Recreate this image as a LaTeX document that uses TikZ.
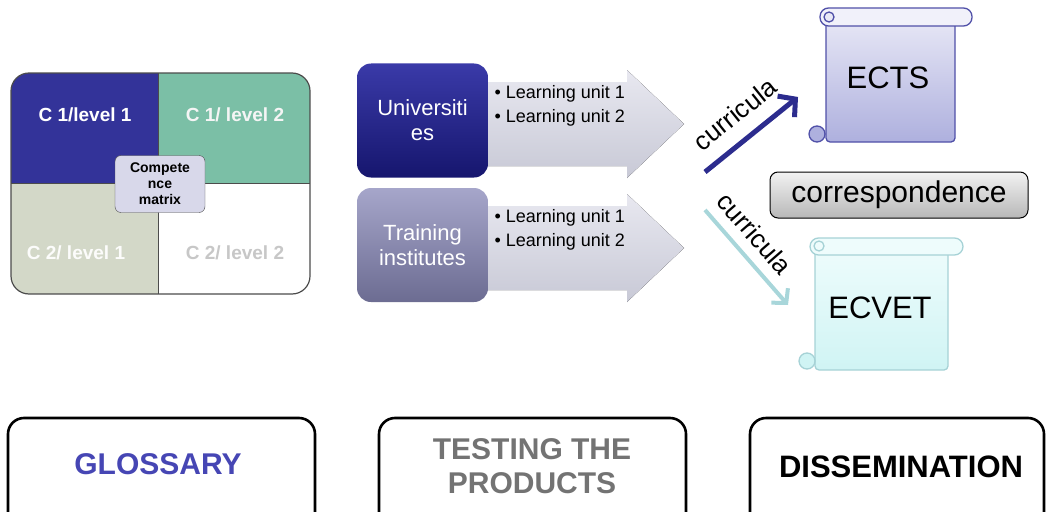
\documentclass[tikz,border=0pt]{standalone}
\usepackage{fontspec}
\setmainfont{Liberation Sans}
\usetikzlibrary{arrows.meta}

\definecolor{matblue}{HTML}{333399}
\definecolor{matgreen}{HTML}{7BBFA6}
\definecolor{matbeige}{HTML}{D3D8C8}
\definecolor{cmfill}{HTML}{D8D8EA}
\definecolor{unitop}{HTML}{3A3AA8}
\definecolor{unibot}{HTML}{16166E}
\definecolor{trntop}{HTML}{A6A6CA}
\definecolor{trnbot}{HTML}{6C6C92}
\definecolor{arrtop}{HTML}{E8E8F0}
\definecolor{arrbot}{HTML}{C8C9D6}
\definecolor{ectsline}{HTML}{5050A8}
\definecolor{ectstop}{HTML}{E8E8F6}
\definecolor{ectsbot}{HTML}{AEB0DE}
\definecolor{ecvetline}{HTML}{A6D2D6}
\definecolor{ecvettop}{HTML}{EEFCFC}
\definecolor{ecvetbot}{HTML}{D0F4F4}
\definecolor{curdark}{HTML}{2C2C8E}
\definecolor{curlight}{HTML}{A8D6DA}
\definecolor{glossblue}{HTML}{4646B4}

\tikzset{
  quadlabel/.style={font=\bfseries\fontsize{19}{21}\selectfont},
  orgbox/.style={rounded corners=14pt, minimum width=131pt, minimum height=114pt,
    align=center, text=white, font=\fontsize{22}{25}\selectfont},
  unitlabel/.style={anchor=base west, font=\fontsize{18}{20}\selectfont},
  curlabel/.style={font=\fontsize{26}{28}\selectfont, text=black, sloped},
  stagebox/.style={draw=black, line width=2.6pt, rounded corners=16pt},
  stagelabel/.style={font=\bfseries\fontsize{30}{34}\selectfont, align=center},
}

\begin{document}
\begin{tikzpicture}[x=1pt, y=-1pt]
  \useasboundingbox (0,0) rectangle (1046,511);
  \clip (0,0) rectangle (1046,511);

  % competence matrix
  \begin{scope}
    \clip[rounded corners=18pt] (11,73) rectangle (310,294);
    \fill[matblue] (11,73) rectangle (158,183);
    \fill[matgreen] (158,73) rectangle (310,183);
    \fill[matbeige] (11,183) rectangle (158,294);
    \fill[white] (158,183) rectangle (310,294);
  \end{scope}
  \draw[black!70, line width=1.2pt, rounded corners=18pt] (11,73) rectangle (310,294);
  \draw[black!70] (158,73) -- (158,294);
  \draw[black!70] (11,183) -- (310,183);
  \node[quadlabel, text=white] (c11) at (85,115) {C 1/level 1};
  \node[quadlabel, text=white!96!black] (c12) at (235,115) {C 1/ level 2};
  \node[quadlabel, text=white!93!matbeige] (c21) at (76,253) {C 2/ level 1};
  \node[quadlabel, text=black!22] (c22) at (235,253) {C 2/ level 2};
  \node[draw=black!70, fill=cmfill, rounded corners=6pt, minimum width=90pt,
    minimum height=57pt, inner sep=1pt, align=center,
    font=\bfseries\fontsize{14}{16}\selectfont] (cm) at (160,184) {Compete\\nce\\matrix};

  % arrows behind the two boxes
  \fill[top color=arrtop, bottom color=arrbot] (470,82) -- (627,82) -- (627,70) -- (684,124)
    -- (627,178) -- (627,166) -- (470,166) -- cycle;
  \fill[top color=arrtop, bottom color=arrbot] (470,206) -- (627,206) -- (627,194) -- (684,248)
    -- (627,302) -- (627,290) -- (470,290) -- cycle;

  \node[orgbox, top color=unitop, bottom color=unibot] (uni) at (422.5,120.5) {Universiti\\es};
  \node[orgbox, top color=trntop, bottom color=trnbot] (trn) at (422.5,245) {Training\\institutes};

  \node[unitlabel] (uni1) at (491,98) {\textbullet\ Learning unit 1};
  \node[unitlabel] (uni2) at (491,122) {\textbullet\ Learning unit 2};
  \node[unitlabel] (trn1) at (491,222) {\textbullet\ Learning unit 1};
  \node[unitlabel] (trn2) at (491,246) {\textbullet\ Learning unit 2};

  % ECTS scroll
  \draw[ectsline, line width=1.3pt, top color=ectstop, bottom color=ectsbot,
    rounded corners=4pt] (826,16) rectangle (955,142);
  \draw[ectsline, line width=1.3pt, fill=ectstop!60!white, rounded corners=8.5pt]
    (820,8) rectangle (972,26);
  \draw[ectsline, line width=1.3pt, fill=ectstop] (829,17) circle[radius=5pt];
  \draw[ectsline, line width=1.3pt, fill=ectsbot] (817,134) circle[radius=8pt];
  \node[font=\fontsize{31}{33}\selectfont] (ects) at (888,78) {ECTS};

  % ECVET scroll
  \draw[ecvetline, line width=1.3pt, top color=ecvettop, bottom color=ecvetbot,
    rounded corners=4pt] (815,246) rectangle (948,370);
  \draw[ecvetline, line width=1.3pt, fill=ecvettop, rounded corners=8.5pt]
    (810,238) rectangle (963,255);
  \draw[ecvetline, line width=1.3pt, fill=ecvettop] (819,246) circle[radius=5pt];
  \draw[ecvetline, line width=1.3pt, fill=ecvetbot] (807,361) circle[radius=8pt];
  \node[font=\fontsize{31}{33}\selectfont] (ecvet) at (880,308) {ECVET};

  \node[draw=black, line width=1pt, rounded corners=8pt, top color=white!95!black,
    bottom color=black!28, minimum width=258pt, minimum height=46pt,
    font=\fontsize{30}{32}\selectfont] (corr) at (899,195) {correspondence};

  % curricula
  \coordinate (cur1a) at (705,172);
  \coordinate (cur1b) at (798,97);
  \coordinate (cur2a) at (705,210);
  \coordinate (cur2b) at (788,305);
  \draw[curdark, line width=5pt, -{Straight Barb[length=12pt, width=27pt]}] (cur1a) -- (cur1b)
    node[curlabel, pos=0.5, above=11pt] (cur1) {curricula};
  \draw[curlight, line width=4pt, -{Straight Barb[length=10pt, width=22pt]}] (cur2a) -- (cur2b)
    node[curlabel, pos=0.4, above=7pt] (cur2) {curricula};

  % stages
  \draw[stagebox] (8,418) rectangle (315,545);
  \draw[stagebox] (379,418) rectangle (686,545);
  \draw[stagebox] (750,418) rectangle (1044,545);
  \node[stagelabel, text=glossblue] (gloss) at (158,464) {GLOSSARY};
  \node[stagelabel, text=black!55] (test) at (532,466) {TESTING THE\\PRODUCTS};
  \node[stagelabel, font=\bfseries\fontsize{31}{34}\selectfont] (diss) at (901,467) {DISSEMINATION};
\end{tikzpicture}
\end{document}
